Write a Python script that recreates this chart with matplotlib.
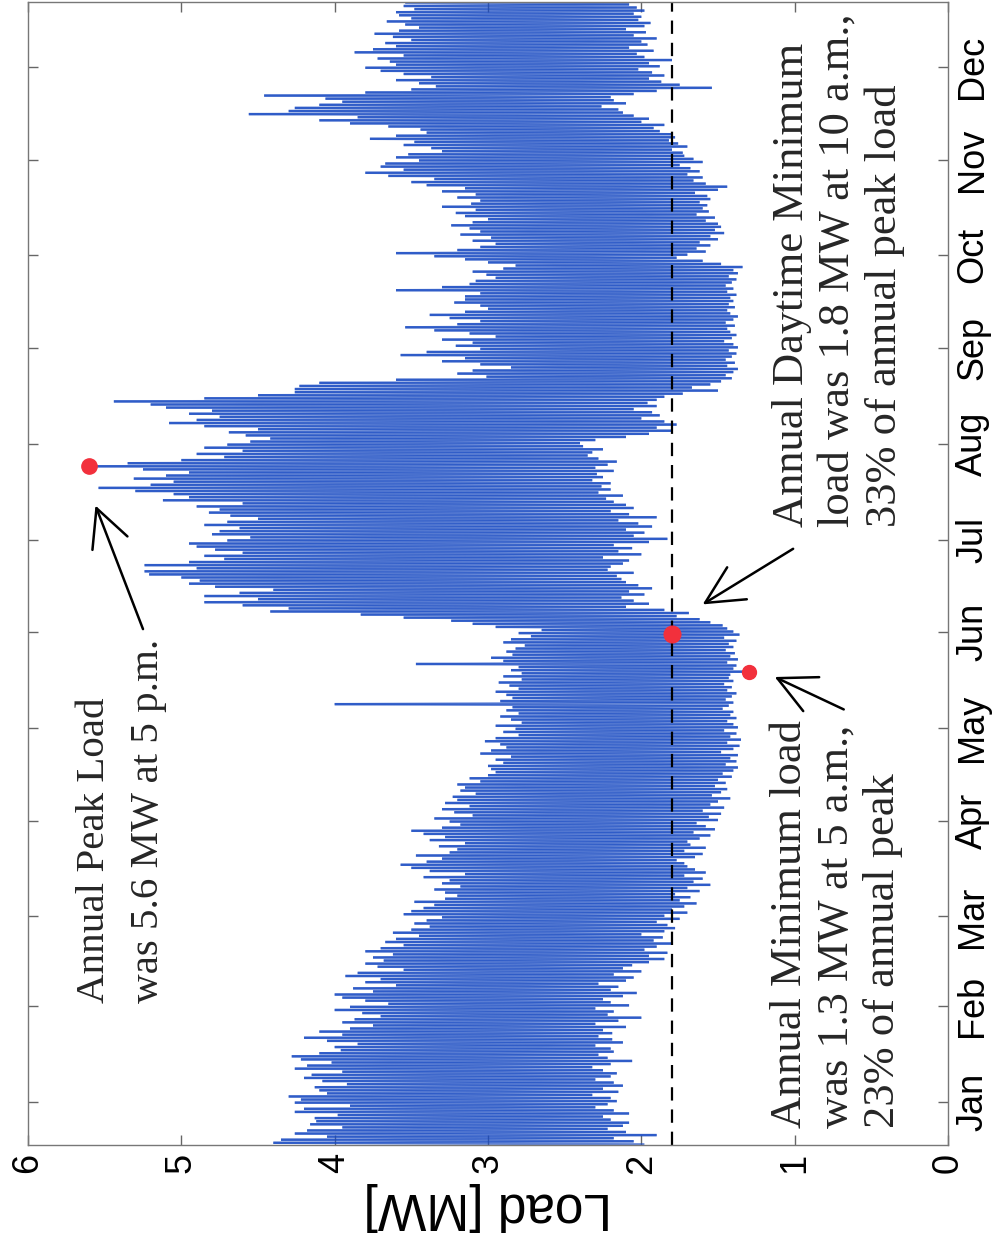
import numpy as np
import matplotlib.pyplot as plt
from matplotlib.collections import LineCollection

# daily load extremes [MW], one row per month starting Jan 1
daily_peak = [
    4.40, 4.35, 4.05, 4.26, 4.18, 3.95, 4.16, 4.12, 4.13, 3.98, 4.26, 4.20, 3.90, 4.26, 4.22, 4.30, 4.05, 4.10, 4.13, 3.92, 4.08, 4.20, 4.15, 3.95, 4.26, 4.18, 4.02, 4.22, 4.28, 4.10, 3.96,
    4.00, 3.85, 4.05, 4.20, 3.95, 4.10, 3.90, 3.75, 3.95, 3.87, 3.70, 3.82, 4.00, 3.90, 3.65, 3.80, 3.95, 4.00, 3.75, 3.88, 3.60, 3.80, 3.70, 3.93, 3.85, 3.55, 3.72, 3.80, 3.68,
    3.75, 3.62, 3.80, 3.70, 3.55, 3.67, 3.60, 3.45, 3.62, 3.50, 3.38, 3.48, 3.40, 3.30, 3.55, 3.50, 3.42, 3.35, 3.48, 3.28, 3.20, 3.28, 3.35, 3.18, 3.30, 3.25, 3.42, 3.15, 3.38, 3.50, 3.57,
    3.40, 3.30, 3.47, 3.25, 3.20, 3.32, 3.15, 3.38, 3.28, 3.42, 3.50, 3.30, 3.18, 3.25, 3.35, 3.10, 3.22, 3.30, 3.12, 3.28, 3.20, 3.23, 3.08, 3.18, 3.15, 3.20, 3.05, 3.12, 3.00, 2.95,
    2.98, 3.00, 2.90, 2.95, 2.85, 3.05, 2.98, 2.88, 2.92, 3.02, 2.95, 2.80, 2.90, 2.82, 2.95, 2.78, 2.85, 2.92, 2.80, 2.88, 2.84, 4.00, 2.92, 2.84, 2.88, 2.95, 2.80, 2.86, 2.93, 2.78, 2.90,
    2.78, 2.85, 2.80, 3.47, 2.90, 2.98, 2.84, 2.88, 2.82, 2.76, 2.90, 2.85, 2.72, 2.80, 2.65, 2.95, 3.10, 3.24, 3.55, 3.83, 4.42, 4.30, 4.60, 4.85, 4.50, 4.85, 4.62, 4.40, 4.78, 4.95,
    4.88, 5.00, 5.21, 5.24, 4.90, 5.24, 4.95, 4.72, 4.85, 4.60, 4.78, 4.90, 4.95, 4.70, 4.55, 4.80, 4.75, 4.62, 4.85, 4.70, 4.50, 4.68, 4.82, 4.75, 4.90, 4.60, 5.12, 4.95, 5.05, 5.30, 5.54,
    5.20, 5.05, 5.31, 5.10, 4.95, 5.25, 5.60, 5.35, 5.00, 4.72, 4.90, 4.60, 4.85, 4.70, 4.55, 4.42, 4.58, 4.69, 4.50, 4.85, 5.08, 4.90, 4.75, 4.95, 4.80, 5.10, 5.20, 5.44, 4.85, 4.50, 4.26,
    4.26, 4.23, 4.10, 3.60, 3.01, 3.20, 3.10, 2.85, 3.05, 3.30, 3.15, 3.57, 3.40, 3.05, 3.21, 3.10, 3.30, 2.95, 3.12, 3.35, 3.54, 3.20, 3.05, 3.25, 3.38, 3.15, 3.00, 3.05, 3.22, 3.15,
    3.15, 3.05, 3.60, 3.30, 3.12, 3.08, 2.95, 3.01, 3.10, 2.90, 2.82, 3.00, 3.15, 3.35, 3.60, 3.20, 3.05, 2.95, 3.10, 2.98, 3.18, 3.05, 3.12, 3.24, 3.10, 3.00, 3.15, 3.21, 3.08, 3.30, 3.11,
    3.05, 3.20, 3.08, 3.30, 3.15, 3.40, 3.50, 3.35, 3.65, 3.80, 3.55, 3.70, 3.67, 3.45, 3.60, 3.52, 3.30, 3.37, 3.55, 3.48, 3.77, 3.60, 3.40, 3.44, 3.65, 3.90, 4.10, 3.85, 4.56, 4.30,
    4.26, 4.10, 3.95, 4.06, 4.46, 3.80, 3.50, 3.34, 3.45, 3.60, 3.37, 3.55, 3.70, 3.80, 3.60, 3.64, 3.72, 3.55, 3.87, 3.75, 3.60, 3.67, 3.50, 3.62, 3.74, 3.58, 3.45, 3.54, 3.66, 3.50, 3.58,
    3.60, 3.48, 3.55, 3.54,
]
daily_low = [
    1.98, 2.05, 2.18, 1.90, 2.10, 2.22, 2.12, 2.08, 2.20, 2.25, 2.08, 2.18, 2.30, 2.22, 2.16, 2.20, 2.32, 2.15, 2.25, 2.12, 2.18, 2.30, 2.20, 2.16, 2.25, 2.32, 2.20, 2.06, 2.22, 2.28, 2.18,
    2.20, 2.30, 2.12, 2.19, 2.28, 2.19, 2.25, 2.10, 2.30, 2.15, 2.00, 2.22, 2.18, 2.30, 2.08, 2.20, 2.25, 2.12, 2.03, 2.20, 2.15, 2.28, 2.10, 2.05, 2.18, 2.00, 2.12, 2.06, 1.95,
    1.85, 1.95, 1.83, 1.98, 1.90, 1.80, 1.92, 1.86, 2.00, 1.85, 1.78, 1.83, 1.90, 1.75, 1.85, 1.70, 1.80, 1.72, 1.64, 1.75, 1.68, 1.78, 1.62, 1.70, 1.55, 1.66, 1.60, 1.72, 1.58, 1.65, 1.70,
    1.72, 1.77, 1.65, 1.60, 1.72, 1.58, 1.68, 1.70, 1.62, 1.55, 1.66, 1.52, 1.58, 1.64, 1.50, 1.56, 1.48, 1.60, 1.46, 1.55, 1.50, 1.42, 1.54, 1.48, 1.44, 1.52, 1.45, 1.50, 1.41, 1.47,
    1.40, 1.37, 1.45, 1.38, 1.42, 1.37, 1.48, 1.40, 1.36, 1.44, 1.35, 1.42, 1.38, 1.46, 1.37, 1.40, 1.44, 1.38, 1.42, 1.40, 1.47, 1.43, 1.40, 1.45, 1.41, 1.38, 1.44, 1.41, 1.46, 1.40, 1.43,
    1.42, 1.30, 1.40, 1.38, 1.44, 1.37, 1.42, 1.39, 1.45, 1.40, 1.43, 1.38, 1.46, 1.36, 1.40, 1.44, 1.47, 1.55, 1.62, 1.77, 1.69, 1.85, 2.10, 1.95, 2.05, 2.13, 1.98, 2.08, 1.93, 2.02,
    2.10, 2.13, 2.16, 2.05, 2.22, 2.20, 2.12, 2.08, 2.25, 2.00, 2.15, 2.06, 2.18, 1.95, 1.83, 2.05, 1.98, 2.10, 1.93, 2.02, 2.15, 1.90, 2.08, 2.20, 2.05, 2.10, 2.18, 2.23, 2.12, 2.28, 2.20,
    2.26, 2.20, 2.32, 2.25, 2.29, 2.18, 2.30, 2.22, 2.16, 2.28, 2.35, 2.32, 2.25, 2.38, 2.40, 2.30, 2.10, 1.95, 1.80, 1.90, 1.77, 1.85, 2.00, 1.88, 1.93, 2.05, 1.90, 1.96, 1.90, 1.85, 1.73,
    1.50, 1.67, 1.55, 1.48, 1.41, 1.45, 1.40, 1.37, 1.44, 1.39, 1.45, 1.41, 1.38, 1.43, 1.37, 1.40, 1.46, 1.41, 1.38, 1.42, 1.44, 1.39, 1.45, 1.40, 1.37, 1.42, 1.44, 1.39, 1.43, 1.40,
    1.42, 1.38, 1.44, 1.40, 1.45, 1.41, 1.38, 1.43, 1.37, 1.40, 1.34, 1.48, 1.60, 1.77, 1.70, 1.58, 1.64, 1.55, 1.62, 1.50, 1.55, 1.46, 1.52, 1.48, 1.50, 1.58, 1.52, 1.64, 1.56, 1.60, 1.57,
    1.62, 1.55, 1.57, 1.65, 1.50, 1.44, 1.58, 1.66, 1.60, 1.70, 1.62, 1.68, 1.75, 1.60, 1.66, 1.72, 1.73, 1.80, 1.70, 1.76, 1.82, 1.78, 1.80, 1.88, 1.92, 1.85, 2.00, 1.95, 2.05, 2.12,
    2.15, 2.26, 2.10, 2.18, 2.20, 2.05, 1.90, 1.54, 1.75, 1.87, 1.95, 1.85, 1.93, 2.02, 1.88, 1.95, 1.80, 1.98, 2.03, 1.92, 2.08, 1.96, 2.00, 1.90, 2.05, 1.97, 2.10, 1.98, 1.94, 2.02, 2.00,
    2.05, 1.98, 2.03, 2.08,
]

months = ['Jan', 'Feb', 'Mar', 'Apr', 'May', 'Jun', 'Jul', 'Aug', 'Sep', 'Oct', 'Nov', 'Dec']
mid_month_day = [14, 45, 74, 105, 135, 166, 196, 227, 258, 288, 319, 349]

# marked extremes: (load MW, day index, hour of day)
peak_load, peak_day, peak_hour = 5.6, 219, 17
min_load, min_day, min_hour = 1.3, 153, 5
daymin_load, daymin_day, daymin_hour = 1.8, 165, 10

# the figure is laid out turned a quarter turn: load runs right-to-left, time bottom-to-top
fig = plt.figure(figsize=(9.98, 12.43), dpi=100)
ax = fig.add_axes([28 / 998, 1 - 1145 / 1243, 920 / 998, 1143 / 1243])

n = min(len(daily_peak), len(daily_low))
days = np.arange(n)
t = np.empty(2 * n)
load = np.empty(2 * n)
t[0::2] = days + min_hour / 24.0    # night minimum
t[1::2] = days + peak_hour / 24.0   # afternoon peak
load[0::2] = daily_low[:n]
load[1::2] = daily_peak[:n]
pts = np.column_stack([load, t])
segs = np.stack([pts[:-1], pts[1:]], axis=1)
lc = LineCollection(segs, colors='#184ac2', linewidths=1.7, alpha=0.68)
ax.add_collection(lc)

ax.axvline(daymin_load, color='k', lw=1.6, ls=(0, (6, 4)))

red = '#f2303c'
ax.plot(peak_load, peak_day + peak_hour / 24, 'o', color=red, ms=11, mec=red)
ax.plot(min_load, min_day + min_hour / 24, 'o', color=red, ms=10, mec=red)
ax.plot(daymin_load, daymin_day + daymin_hour / 24, 'o', color=red, ms=12, mec=red)

ax.set_xlim(6, 0)
ax.set_ylim(0, 370)

tick_font = {'family': 'Liberation Sans', 'size': 26}
ax.set_xticks(range(7))
ax.set_xticklabels([str(v) for v in range(7)], fontdict=tick_font, rotation=90)
ax.set_yticks(mid_month_day)
ax.set_yticklabels(months, fontdict=tick_font, rotation=90, va='center')
ax.tick_params(direction='in', length=7, width=1, color='#666666',
               top=True, bottom=True, left=True, right=True,
               labelleft=False, labelright=True)
ax.tick_params(axis='x', pad=6)
ax.tick_params(axis='y', pad=5)
for s in ax.spines.values():
    s.set_color('#777777')
    s.set_linewidth(1.0)

ax.set_xlabel('Load [MW]', family='Liberation Sans', size=37, rotation=180, labelpad=6)

note_font = dict(family='Liberation Serif', color='#262626', rotation=90,
                 ha='left', va='bottom', multialignment='left')
ax.text(5.69, 46, 'Annual Peak Load\nwas 5.6 MW at 5 p.m.', size=29.5,
        linespacing=1.62, **note_font)
ax.text(1.16, 5.5, 'Annual Minimum load\nwas 1.3 MW at 5 a.m.,\n23% of annual peak',
        size=32, linespacing=1.2, **note_font)
ax.text(1.15, 200, 'Annual Daytime Minimum\nload was 1.8 MW at 10 a.m.,\n33% of annual peak load',
        size=32, linespacing=1.2, **note_font)

arrow = dict(arrowstyle='->, head_length=0.9, head_width=0.45', lw=1.8, color='k',
             mutation_scale=30, shrinkA=0, shrinkB=0)
ax.annotate('', xy=(5.56, 207), xytext=(5.25, 167), arrowprops=arrow)
ax.annotate('', xy=(1.13, 151.5), xytext=(0.68, 141), arrowprops=arrow)
ax.annotate('', xy=(1.60, 175), xytext=(1.01, 193), arrowprops=arrow)

fig.savefig('out.png', dpi=100)
